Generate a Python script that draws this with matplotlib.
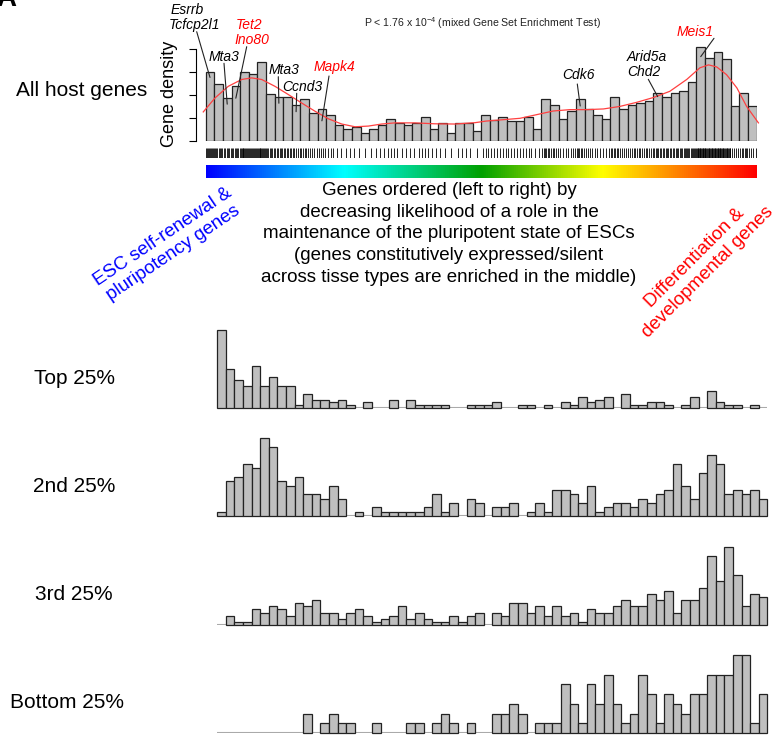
import numpy as np
import matplotlib
matplotlib.use("Agg")
import matplotlib.pyplot as plt
from matplotlib.colors import LinearSegmentedColormap

plt.rcParams["font.family"] = ["Liberation Sans", "DejaVu Sans"]
plt.rcParams["mathtext.default"] = "regular"

# gene density of all host genes, 64 rank bins (left = ESC self-renewal end)
host_density = [3.0, 2.48, 1.88, 2.39, 3.0, 2.92, 3.45, 2.04, 1.9, 1.9,
                1.55, 1.81, 1.2, 1.37, 1.11, 0.67, 0.5, 0.58, 0.32, 0.5,
                0.67, 0.93, 0.76, 0.67, 0.76, 1.02, 0.5, 0.76, 0.32, 0.76,
                0.76, 0.44, 1.14, 0.91, 1.05, 0.88, 0.88, 1.05, 0.53, 1.84,
                1.58, 0.96, 1.31, 1.84, 1.40, 1.14, 0.96, 1.93, 1.40, 1.58,
                1.66, 1.72, 2.07, 1.93, 2.10, 2.19, 2.55, 4.08, 3.64, 3.90,
                3.57, 1.50, 2.07, 1.50]

# smoothed density (red line)
curve_x = [-0.28, 1.08, 2.62, 4.18, 5.34, 6.5, 8.05, 9.6, 11.15, 12.7,
           14.24, 15.8, 17.34, 18.89, 20.44, 21.99, 24.3, 26.6, 28.95, 31.3,
           32.6, 34.56, 36.5, 38.44, 40.37, 42.3, 44.25, 46.2, 48.1, 50.06,
           52.0, 53.9, 55.87, 57.4, 58.4, 59.35, 60.5, 61.7, 62.83, 64.2]
curve_y = [1.26, 1.87, 2.38, 2.68, 2.75, 2.68, 2.38, 2.02, 1.65, 1.29,
           0.96, 0.73, 0.61, 0.64, 0.73, 0.78, 0.78, 0.74, 0.73, 0.79,
           0.86, 0.92, 0.98, 1.14, 1.30, 1.36, 1.36, 1.39, 1.50, 1.68,
           1.89, 2.16, 2.68, 3.19, 3.32, 3.23, 2.89, 2.31, 1.50, 0.78]

# host gene counts per bin, split by expression quartile
top_q = [28, 14, 10, 8, 15, 8, 11, 8, 8, 1, 5, 3, 3, 2, 3, 1, 0, 2, 0, 0,
         3, 0, 3, 1, 1, 1, 1, 0, 0, 1, 1, 1, 2, 0, 0, 1, 1, 0, 1, 0,
         2, 1, 4, 2, 3, 4, 0, 5, 1, 1, 2, 2, 1, 0, 1, 4, 0, 6, 2, 1,
         1, 0, 1, 0]
second_q = [1, 8, 9, 12, 11, 18, 16, 8, 7, 9, 5, 5, 4, 7, 4, 0, 1, 0, 2, 1,
            1, 1, 1, 1, 2, 5, 1, 3, 0, 4, 3, 0, 2, 2, 3, 0, 1, 3, 1, 6,
            6, 5, 3, 7, 1, 2, 3, 3, 2, 4, 3, 5, 6, 12, 7, 4, 10, 14, 12, 5,
            6, 5, 6, 4]
third_q = [0, 3, 1, 1, 5, 4, 6, 5, 3, 7, 6, 8, 4, 4, 2, 4, 5, 3, 1, 2,
           3, 6, 2, 4, 2, 1, 1, 3, 1, 3, 4, 0, 4, 3, 7, 7, 4, 6, 3, 6,
           3, 4, 1, 5, 4, 4, 6, 8, 6, 6, 10, 8, 11, 4, 8, 8, 12, 22, 14, 25,
           16, 6, 10, 9]
bottom_q = [0, 0, 0, 0, 0, 0, 0, 0, 0, 0, 2, 0, 1, 2, 1, 1, 0, 0, 1, 0,
            0, 0, 1, 1, 0, 1, 2, 1, 0, 1, 0, 0, 2, 2, 3, 2, 0, 1, 1, 1,
            5, 3, 1, 5, 3, 6, 3, 1, 2, 6, 4, 1, 4, 3, 2, 4, 4, 6, 6, 6,
            8, 8, 1, 4]
quartile_names = ["Top 25%", "2nd 25%", "3rd 25%", "Bottom 25%"]

# bins that the gene label leaders point to
gene_bins = [0, 3, 2, 8, 10, 13, 43, 52, 57]

W, H = 778, 736
fig = plt.figure(figsize=(W / 100, H / 100), dpi=100)


def px_axes(left, top, right, bottom):
    return fig.add_axes([left / W, 1 - bottom / H, (right - left) / W, (bottom - top) / H])


def px_text(x, y, s, **kw):
    kw.setdefault("ha", "center")
    kw.setdefault("va", "center")
    fig.text(x / W, 1 - y / H, s, **kw)


bar_face = "#bfbfbf"
bar_edge = "#222222"
nbins = len(host_density)
bins = np.arange(nbins)

# ---- all host genes histogram ----
ax = px_axes(195.7, 45.9, 756.7, 140.7)
ax.bar(bins, host_density, width=1, align="edge", color=bar_face,
       edgecolor=bar_edge, linewidth=0.9)
ax.plot(curve_x, curve_y, color="#ff4040", lw=0.9, clip_on=False)
ax.set_xlim(-1.16, nbins)
ax.set_ylim(0, 4.15)
for s in ["top", "right", "bottom"]:
    ax.spines[s].set_visible(False)
ax.spines["left"].set_bounds(0, 4)
ax.spines["left"].set_linewidth(0.8)
ax.set_yticks([0, 1, 2, 3, 4])
ax.set_yticklabels([])
ax.set_xticks([])
ax.tick_params(axis="y", length=5, width=0.8)

# leader lines from gene labels down into their bars
leader_start = [(196.7, 31.7), (246.7, 46.7), (224, 63.3), (278.3, 76.7), (296.7, 93.3),
                (329, 76), (577.3, 84), (648.3, 79.3), (714, 38.3)]
leader_drop = [0.23, 0.53, 0.28, 0.26, 0.28, 0.5, 0.32, 0.14, 0.4]
for b, (sx, sy), d in zip(gene_bins, leader_start, leader_drop):
    ax.annotate("", xy=(b + 0.5, host_density[b] - d), xycoords="data",
                xytext=(sx, H - sy), textcoords="figure pixels",
                arrowprops=dict(arrowstyle="-", color="#222222", lw=0.8,
                                shrinkA=0, shrinkB=0))

label_items = [("Esrrb", 187.5, 10, "k"), ("Tcfcp2l1", 194.7, 25, "k"),
               ("Tet2", 248.7, 25, "red"), ("Ino80", 252, 40, "red"),
               ("Mta3", 223.7, 57, "k"), ("Mta3", 284, 70, "k"),
               ("Ccnd3", 302.5, 87, "k"), ("Mapk4", 334.7, 67, "red"),
               ("Cdk6", 578, 75, "k"), ("Arid5a", 646.7, 57, "k"),
               ("Chd2", 644, 72, "k"), ("Meis1", 695, 31.7, "red")]
for name, x, y, c in label_items:
    px_text(x, y, name, style="italic", fontsize=10, color=c)

px_text(482, 23, r"P < 1.76 x 10$^{-4}$ (mixed Gene Set Enrichment Test)",
        fontsize=7.6, color="#222222")
px_text(169, 94, "Gene density", rotation=90, fontsize=13)
px_text(82, 90, "All host genes", fontsize=15)
px_text(6, -1, "A", fontsize=20, weight="bold")

# ---- rug of gene positions ----
rug = px_axes(205.7, 148, 756.7, 158)
ticks = []
for b, h in zip(bins, host_density):
    n = int(round(h * 3))
    ticks.extend(b + (np.arange(n) + 0.5) / n)
rug.vlines(ticks, 0, 1, color="black", lw=0.6)
rug.set_xlim(0, nbins)
rug.set_ylim(0, 1)
rug.axis("off")

# ---- colour bar of the ordering ----
cmap = LinearSegmentedColormap.from_list(
    "ordering", [(0, "#0000ff"), (0.25, "#00ffff"), (0.5, "#00a000"),
                 (0.72, "#ffff00"), (1, "#ff0000")])
cb = px_axes(205.7, 165, 756.7, 178)
cb.imshow(np.linspace(0, 1, 512)[None, :], aspect="auto", cmap=cmap,
          extent=(0, nbins, 0, 1))
cb.axis("off")

px_text(449, 234,
        "Genes ordered (left to right) by\n"
        "decreasing likelihood of a role in the\n"
        "maintenance of the pluripotent state of ESCs\n"
        "(genes constitutively expressed/silent\n"
        "across tisse types are enriched in the middle)",
        fontsize=13.5, linespacing=1.35)
px_text(168, 245, "ESC self-renewal &\npluripotency genes", rotation=34,
        rotation_mode="anchor", color="blue", fontsize=13.5, linespacing=1.15)
px_text(701, 265, "Differentiation &\ndevelopmental genes", rotation=45,
        rotation_mode="anchor", color="red", fontsize=13.5, linespacing=1.15)

# ---- quartile histograms ----
baselines = [408, 516, 625, 733]
label_x = [74, 74, 74, 67]
for counts, name, base, lx in zip([top_q, second_q, third_q, bottom_q],
                                  quartile_names, baselines, label_x):
    counts = np.array(counts)
    qa = px_axes(217.3, base - 78, 767.3, base)
    nz = counts > 0
    qa.bar(bins[nz], counts[nz], width=1, align="edge", color=bar_face,
           edgecolor=bar_edge, linewidth=0.9, clip_on=False)
    qa.axhline(0, color="#aaaaaa", lw=1.5, zorder=0)
    qa.set_xlim(0, nbins)
    qa.set_ylim(0, counts.max())
    qa.axis("off")
    px_text(lx, base - 30, name, fontsize=15)

fig.savefig("out.png", dpi=100)
